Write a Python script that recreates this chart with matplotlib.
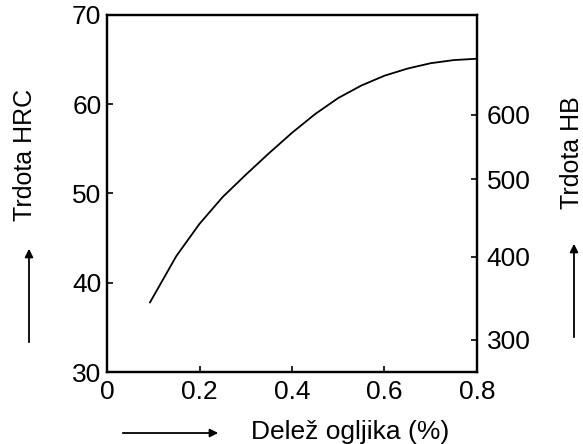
import numpy as np
import matplotlib
matplotlib.use("Agg")
import matplotlib.pyplot as plt

# data
carbon = [0.093, 0.15, 0.20, 0.25, 0.30, 0.35, 0.40, 0.45, 0.50, 0.55, 0.60, 0.65, 0.70, 0.75, 0.80]
hrc = [37.8, 43.0, 46.6, 49.6, 52.1, 54.5, 56.8, 58.9, 60.7, 62.1, 63.2, 64.0, 64.6, 64.95, 65.1]

hrc_ticks = [30, 40, 50, 60, 70]
x_ticks = [0, 0.2, 0.4, 0.6, 0.8]
x_labels = ["0", "0.2", "0.4", "0.6", "0.8"]
# HB scale is not linear against HRC: tick value and its HRC position
hb_ticks = [300, 400, 500, 600]
hb_at_hrc = [33.6, 42.9, 51.6, 58.8]

plt.rcParams['font.family'] = ['Liberation Sans', 'DejaVu Sans']
FS = 19

fig = plt.figure(figsize=(5.83, 4.44), dpi=100)
ax = fig.add_axes([107/583, 72/444, 370/583, 357/444])

ax.plot(carbon, hrc, color='black', lw=1.3, solid_joinstyle='round')
ax.set_xlim(0, 0.8)
ax.set_ylim(30, 70)
ax.set_xticks(x_ticks)
ax.set_xticklabels(x_labels)
ax.set_yticks(hrc_ticks)
ax.tick_params(direction='in', length=4, width=1.2, labelsize=FS)
ax.tick_params(axis='x', pad=6)
ax.tick_params(axis='y', pad=4)
for s in ax.spines.values():
    s.set_linewidth(1.6)

ax2 = ax.twinx()
ax2.set_ylim(30, 70)
ax2.set_yticks(hb_at_hrc)
ax2.set_yticklabels([str(v) for v in hb_ticks])
ax2.tick_params(direction='in', length=4, width=1.2, labelsize=FS, pad=7)
for s in ax2.spines.values():
    s.set_linewidth(1.6)

# axis titles with arrows
fig.text(25/583, 1 - 155/444, "Trdota HRC", rotation=90, ha='center', va='center', fontsize=18)
fig.text(572/583, 1 - 153/444, "Trdota HB", rotation=90, ha='center', va='center', fontsize=18)
fig.text(350/583, 1 - 432/444, "Delež ogljika (%)", ha='center', va='center', fontsize=FS)

arrow = dict(arrowstyle='-|>', color='black', lw=1.3, mutation_scale=12)
fig.add_artist(matplotlib.patches.FancyArrowPatch((29/583, 1 - 345/444), (29/583, 1 - 246/444),
                                                  transform=fig.transFigure, **arrow))
fig.add_artist(matplotlib.patches.FancyArrowPatch((574/583, 1 - 340/444), (574/583, 1 - 241/444),
                                                  transform=fig.transFigure, **arrow))
fig.add_artist(matplotlib.patches.FancyArrowPatch((120/583, 1 - 433/444), (221/583, 1 - 433/444),
                                                  transform=fig.transFigure, **arrow))

fig.savefig("out.png", dpi=100)
